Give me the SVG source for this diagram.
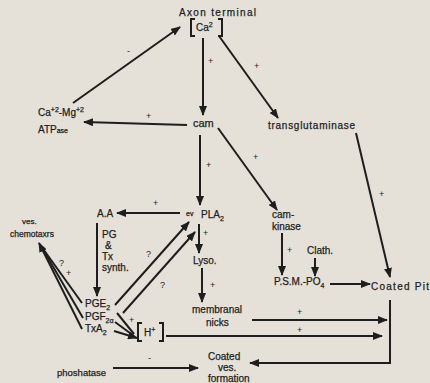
<svg xmlns="http://www.w3.org/2000/svg" width="430" height="383" viewBox="0 0 430 383">
<defs>
<marker id="ah" viewBox="0 0 10 8" refX="9" refY="4" markerWidth="10" markerHeight="8" markerUnits="userSpaceOnUse" orient="auto">
<path d="M0,0 L10,4 L0,8 Z" fill="#1e1e1e"/>
</marker>
<style>
.t{font-family:"Liberation Sans",Arial,sans-serif;font-size:10px;fill:#1e1e1e;stroke:#1e1e1e;stroke-width:0.25}
.s{font-size:7px}
.l{fill:none;stroke:#1e1e1e;stroke-width:2}
.a{marker-end:url(#ah)}
.b{fill:none;stroke:#1e1e1e;stroke-width:2}
.g{font-family:"Liberation Sans",Arial,sans-serif;font-size:9px;fill:#1e1e1e}
</style>
</defs>
<rect width="430" height="383" fill="#e5e1d8"/>

<g id="connectors">
<path class="l a" d="M73,103 L180,27"/>
<path class="l a" d="M203,38 V115"/>
<path class="l a" d="M219,36 L278,118"/>
<path class="l a" d="M187,125 L84,122"/>
<path class="l a" d="M200,135 V205"/>
<path class="l a" d="M218,128 L277,210"/>
<path class="l a" d="M356,133 L390,277"/>
<path class="l a" d="M180,213 L117,213"/>
<path class="l a" d="M97,223 V296"/>
<path class="l a" d="M199,224 V253"/>
<path class="l a" d="M202,268 V302"/>
<path class="l a" d="M282,233 V275"/>
<path class="l a" d="M315,258 V276"/>
<path class="l a" d="M330,284 H370"/>
<path class="l a" d="M115,305 L189,222"/>
<path class="l a" d="M123,313 L195,232"/>
<path class="l" d="M82,303 L41,246"/>
<path class="l" d="M83,318 L41,246"/>
<path class="l a" d="M82,329 L39,243"/>
<path class="l" d="M117,313 L134,334"/>
<path class="l" d="M115,322 L134,336"/>
<path class="l a" d="M114,331 L137,338"/>
<path class="l a" d="M166,336 H382"/>
<path class="l a" d="M252,320 H387"/>
<path class="l a" d="M390,300 V363 H250"/>
<path class="l a" d="M113,368 H198"/>
</g>

<g id="axon">
<text class="t" x="179" y="16" textLength="77" lengthAdjust="spacing">Axon terminal</text>
<path class="b" d="M195,19 H191 V36 H195 M218,19 H222 V36 H218"/>
<text class="t" x="196" y="31">Ca<tspan class="s" dy="-4">2</tspan></text>
</g>
<g id="atpase">
<text class="t" x="38" y="116">Ca<tspan class="s" dy="-4">+2</tspan><tspan dy="4">-Mg</tspan><tspan class="s" dy="-4">+2</tspan></text>
<text class="t" x="38" y="133">ATP<tspan class="s">ase</tspan></text>
</g>
<g id="cam"><text class="t" x="193" y="127" style="font-size:11px">cam</text></g>
<g id="transglutaminase"><text class="t" x="268" y="129" textLength="87" lengthAdjust="spacing">transglutaminase</text></g>
<g id="aa"><text class="t" x="97" y="217">A.A</text></g>
<g id="pgtx">
<text class="t" x="102" y="238">PG</text>
<text class="t" x="105" y="249">&amp;</text>
<text class="t" x="102" y="260">Tx</text>
<text class="t" x="102" y="271">synth.</text>
</g>
<g id="pla2">
<text class="t s" x="186" y="216">ev</text>
<text class="t" x="201" y="218">PLA<tspan class="s" dy="3">2</tspan></text>
</g>
<g id="camkinase">
<text class="t" x="272" y="218">cam-</text>
<text class="t" x="272" y="230">kinase</text>
</g>
<g id="lyso"><text class="t" x="193" y="264">Lyso.</text></g>
<g id="clath"><text class="t" x="307" y="254">Clath.</text></g>
<g id="psm"><text class="t" x="274" y="285">P.S.M.-PO<tspan class="s" dy="3">4</tspan></text></g>
<g id="coatedpit"><text class="t" x="371" y="290" textLength="58" lengthAdjust="spacing">Coated Pit</text></g>
<g id="chemotaxis">
<text class="t s" x="22" y="224" style="font-size:8px">ves.</text>
<text class="t" x="10" y="237" style="font-size:8.5px">chemotaxrs</text>
</g>
<g id="prostaglandins">
<text class="t" x="85" y="307">PGE<tspan class="s" dy="3">2</tspan></text>
<text class="t" x="85" y="320">PGF<tspan class="s" dy="3">2α</tspan></text>
<text class="t" x="85" y="332">TxA<tspan class="s" dy="3">2</tspan></text>
</g>
<g id="hplus">
<path class="b" d="M142,323 H138 V341 H142 M159,323 H163 V341 H159"/>
<text class="t" x="144" y="336">H<tspan class="s" dy="-4">+</tspan></text>
</g>
<g id="nicks">
<text class="t" x="192" y="313">membranal</text>
<text class="t" x="206" y="326">nicks</text>
</g>
<g id="phosphatase"><text class="t" x="57" y="376" style="font-size:9.5px">phoshatase</text></g>
<g id="coatedves">
<text class="t" x="208" y="360">Coated</text>
<text class="t" x="218" y="371">ves.</text>
<text class="t" x="208" y="382">formation</text>
</g>

<g id="signs">
<text class="g" x="127" y="54">-</text>
<text class="g" x="208" y="64">+</text>
<text class="g" x="254" y="69">+</text>
<text class="g" x="146" y="119">+</text>
<text class="g" x="206" y="168">+</text>
<text class="g" x="253" y="160">+</text>
<text class="g" x="379" y="197">+</text>
<text class="g" x="153" y="206">+</text>
<text class="g" x="203" y="236">+</text>
<text class="g" x="146" y="257">?</text>
<text class="g" x="160" y="288">?</text>
<text class="g" x="210" y="288">+</text>
<text class="g" x="287" y="253">+</text>
<text class="g" x="59" y="266">?</text>
<text class="g" x="66" y="276">+</text>
<text class="g" x="129" y="323">+</text>
<text class="g" x="297" y="315">+</text>
<text class="g" x="297" y="333">+</text>
<text class="g" x="148" y="361">-</text>
</g>
</svg>
